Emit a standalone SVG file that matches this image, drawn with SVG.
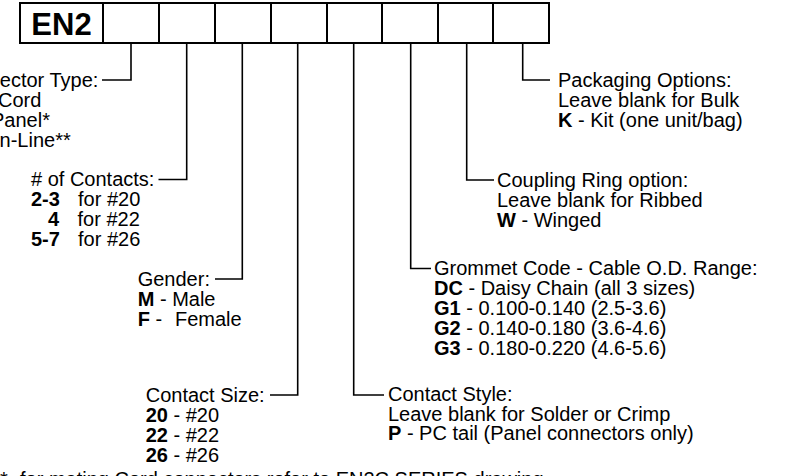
<svg xmlns="http://www.w3.org/2000/svg" width="785" height="476" viewBox="0 0 785 476">
<style>
.box{fill:#fff;stroke:#000;stroke-width:2}
.t{font-family:"Liberation Sans",Arial,Helvetica,sans-serif;font-size:20px;fill:#000}
.b{font-weight:bold}
.big{font-family:"Liberation Sans",Arial,Helvetica,sans-serif;font-size:31px;font-weight:bold;fill:#000}
.c{fill:none;stroke:#000;stroke-width:1.6}
</style>
<rect width="785" height="476" fill="#fff"/>
<g id="boxes">
<g id="box-en2"><rect class="box" x="20" y="3" width="83" height="40"/><text class="big" x="61.5" y="34.5" text-anchor="middle">EN2</text></g>
<g id="box-1"><rect class="box" x="103" y="3" width="56" height="40"/></g>
<g id="box-2"><rect class="box" x="159" y="3" width="56" height="40"/></g>
<g id="box-3"><rect class="box" x="215" y="3" width="56" height="40"/></g>
<g id="box-4"><rect class="box" x="271" y="3" width="56" height="40"/></g>
<g id="box-5"><rect class="box" x="327" y="3" width="55" height="40"/></g>
<g id="box-6"><rect class="box" x="382" y="3" width="56" height="40"/></g>
<g id="box-7"><rect class="box" x="438" y="3" width="55" height="40"/></g>
<g id="box-8"><rect class="box" x="493" y="3" width="56" height="40"/></g>
</g>
<g id="connectors">
<path class="c" d="M131,43 V80 H102"/>
<path class="c" d="M186.7,43 V179.5 H158.5"/>
<path class="c" d="M242.3,43 V279 H215"/>
<path class="c" d="M297.7,43 V395 H270"/>
<path class="c" d="M353.7,43 V395 H384"/>
<path class="c" d="M410.7,43 V268.5 H431"/>
<path class="c" d="M466.7,43 V180 H494"/>
<path class="c" d="M522.7,43 V80 H550"/>
</g>
<g id="label-connector-type" class="t">
<text x="-48" y="86.5">Connector Type:</text>
<text x="-2" y="106.5">Cord</text>
<text x="-9" y="126.5">Panel*</text>
<text x="-6" y="146.5">In-Line**</text>
</g>
<g id="label-contacts" class="t">
<text x="31" y="186">
# of Contacts:</text>
<text x="31" y="206"><tspan class="b">2-3</tspan><tspan x="78">for #20</tspan></text>
<text x="48" y="226"><tspan class="b">4</tspan><tspan x="77.5">for #22</tspan></text>
<text x="31" y="246"><tspan class="b">5-7</tspan><tspan x="78">for #26</tspan></text>
</g>
<g id="label-gender" class="t">
<text x="137.7" y="285.5">Gender:</text>
<text x="137.7" y="305.5"><tspan class="b">M</tspan> - Male</text>
<text x="137.7" y="325.5"><tspan class="b">F</tspan> -<tspan x="175">Female</tspan></text>
</g>
<g id="label-contact-size" class="t">
<text x="145.7" y="401.5">Contact Size:</text>
<text x="145.7" y="421.5"><tspan class="b">20</tspan> - #20</text>
<text x="145.7" y="441.5"><tspan class="b">22</tspan> - #22</text>
<text x="145.7" y="461.5"><tspan class="b">26</tspan> - #26</text>
</g>
<g id="label-contact-style" class="t">
<text x="388" y="401">Contact Style:</text>
<text x="388" y="420.5">Leave blank for Solder or Crimp</text>
<text x="388" y="440"><tspan class="b">P</tspan> - PC tail (Panel connectors only)</text>
</g>
<g id="label-grommet" class="t">
<text x="434" y="275">Grommet Code - Cable O.D. Range:</text>
<text x="434" y="295"><tspan class="b">DC</tspan> - Daisy Chain (all 3 sizes)</text>
<text x="434" y="315"><tspan class="b">G1</tspan> - 0.100-0.140 (2.5-3.6)</text>
<text x="434" y="335"><tspan class="b">G2</tspan> - 0.140-0.180 (3.6-4.6)</text>
<text x="434" y="355"><tspan class="b">G3</tspan> - 0.180-0.220 (4.6-5.6)</text>
</g>
<g id="label-coupling" class="t">
<text x="497" y="186.5">Coupling Ring option:</text>
<text x="497" y="206.5">Leave blank for Ribbed</text>
<text x="497" y="226.5"><tspan class="b">W</tspan> - Winged</text>
</g>
<g id="label-packaging" class="t">
<text x="558" y="86.5">Packaging Options:</text>
<text x="558" y="106.5">Leave blank for Bulk</text>
<text x="558" y="126.5"><tspan class="b">K</tspan> - Kit (one unit/bag)</text>
</g>
<g id="footnote" class="t">
<text x="0" y="486">*- for mating Cord connectors refer to EN2C SERIES drawing</text>
</g>
</svg>
